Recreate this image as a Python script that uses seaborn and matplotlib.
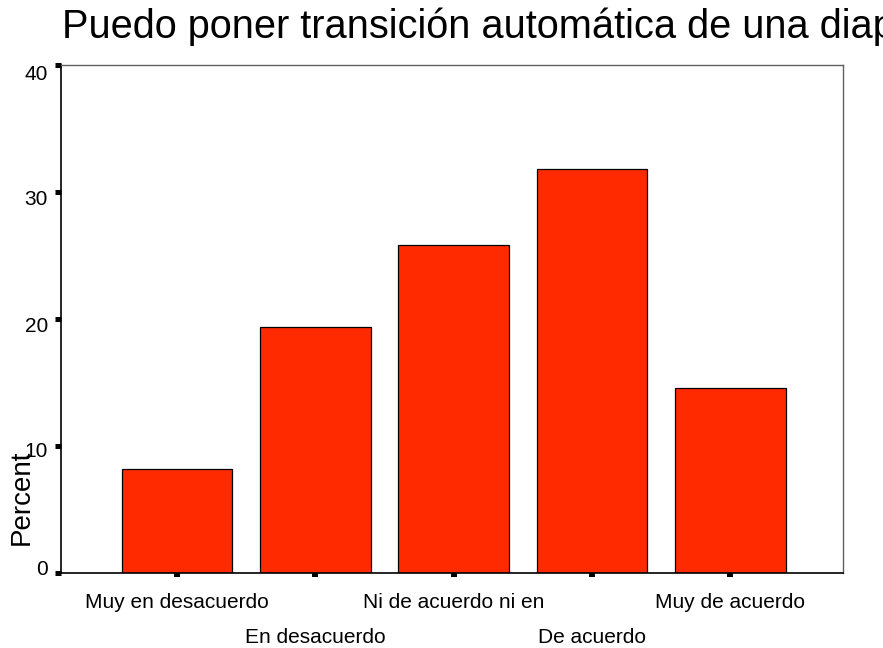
import matplotlib
matplotlib.use("Agg")
import matplotlib.pyplot as plt
import matplotlib.transforms as mtransforms
import seaborn as sns
import pandas as pd

# ---- data ----
categories = ["Muy en desacuerdo", "En desacuerdo", "Ni de acuerdo ni en",
              "De acuerdo", "Muy de acuerdo"]
percent = [8.2, 19.4, 25.8, 31.8, 14.6]
y_ticks = [0, 10, 20, 30, 40]
title = "Puedo poner transición automática de una diap"
ylabel = "Percent"

sns.set_style("white")
plt.rcParams["font.family"] = ["Liberation Sans", "DejaVu Sans"]
plt.rcParams["text.color"] = "black"
plt.rcParams["axes.labelcolor"] = "black"
plt.rcParams["xtick.color"] = "black"
plt.rcParams["ytick.color"] = "black"

W, H = 883, 648
fig = plt.figure(figsize=(W / 100, H / 100), dpi=100)
ax_left, ax_right, ax_top, ax_bottom = 61, 843, 65, 573.3
ax = fig.add_axes([ax_left / W, 1 - ax_bottom / H,
                   (ax_right - ax_left) / W, (ax_bottom - ax_top) / H])

df = pd.DataFrame({"cat": categories, "pct": percent})
sns.barplot(data=df, x="cat", y="pct", order=categories, color="#FF2A00",
            saturation=1, width=0.8, edgecolor="black", linewidth=0.9, ax=ax)

ax.set_xlim(-0.84, 4.815)
ax.set_ylim(0, 40)
ax.set_yticks(y_ticks)
ax.set_yticklabels([str(t) for t in y_ticks])
ax.set_xlabel("")
ax.set_ylabel("")

for s in ["left", "bottom"]:
    ax.spines[s].set_color("black")
    ax.spines[s].set_linewidth(1.2)
for s in ["top", "right"]:
    ax.spines[s].set_color("#606060")
    ax.spines[s].set_linewidth(1.0)

ax.tick_params(axis="y", direction="out", length=4.3, width=3.6,
               color="black", labelcolor="black", labelsize=15, pad=5, left=True)
ax.tick_params(axis="x", direction="out", length=2.9, width=4.3,
               color="black", labelcolor="black", labelsize=15, pad=11.5, bottom=True)

# stagger the x tick labels
for i, lbl in enumerate(ax.get_xticklabels()):
    if i % 2 == 1:
        lbl.set_transform(lbl.get_transform() +
                          mtransforms.ScaledTranslation(0, -0.35, fig.dpi_scale_trans))

# small vertical offsets of y tick labels (as in the reference)
yoff = [-6, 3, 5, 5.5, 7]
for lbl, off in zip(ax.get_yticklabels(), yoff):
    lbl.set_transform(lbl.get_transform() +
                      mtransforms.ScaledTranslation(0, -off / 100, fig.dpi_scale_trans))

fig.text(22 / W, 1 - 497.5 / H, ylabel, rotation=90, ha="center", va="center",
         fontsize=20, color="black")
fig.text(62 / W, 1 - 37.7 / H, title, ha="left", va="baseline", fontsize=28.6,
         color="black")

fig.savefig("out.png", dpi=100)
